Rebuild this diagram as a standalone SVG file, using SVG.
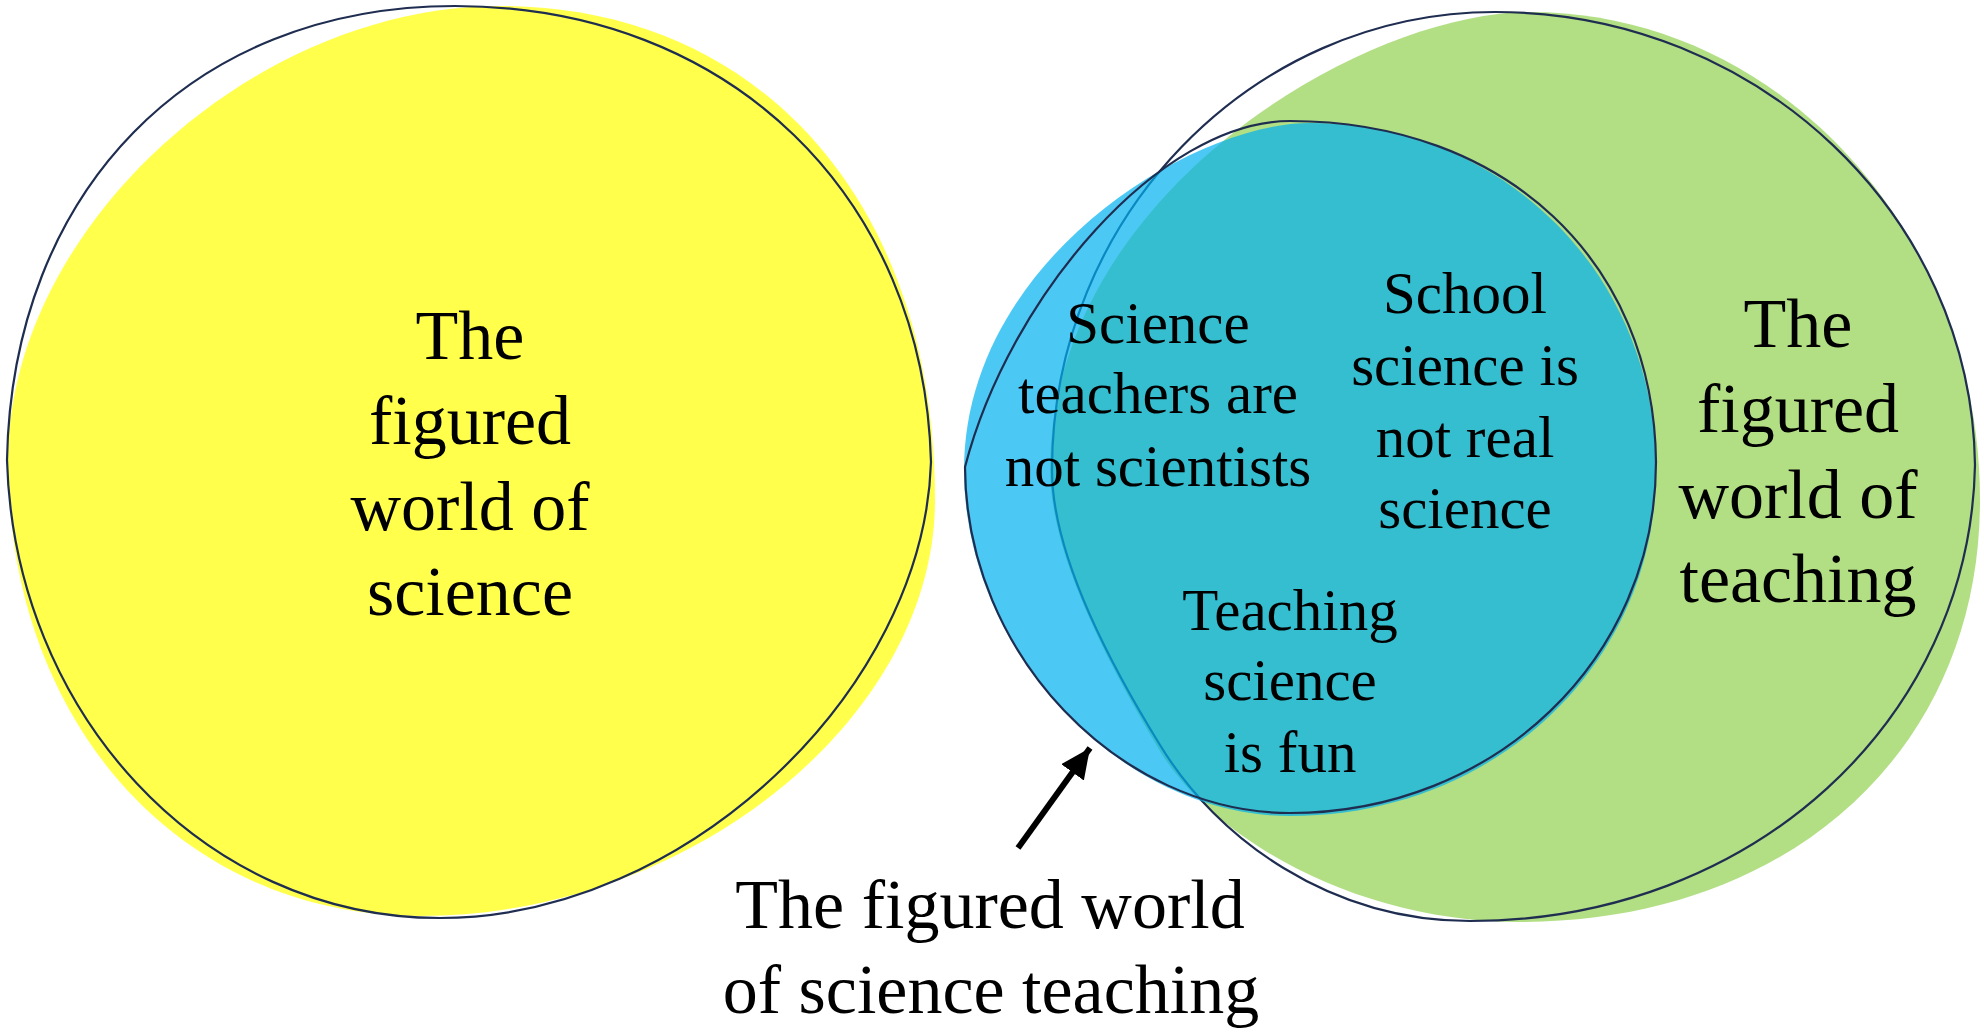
<svg xmlns="http://www.w3.org/2000/svg" width="1984" height="1035" viewBox="0 0 1984 1035">
<defs>
<style>
.bg{fill:#ffffff}
.yfill{fill:#FFFF00;fill-opacity:0.7;stroke:none}
.gfill{fill:#92D050;fill-opacity:0.7;stroke:none}
.bfill{fill:#00B0F0;fill-opacity:0.7;stroke:none}
.outline{fill:none;stroke:#1F2D50;stroke-width:2.2;stroke-linejoin:round}
.big{font-family:"Liberation Serif","Times New Roman",serif;font-size:70px;fill:#000;text-anchor:middle}
.small{font-family:"Liberation Serif","Times New Roman",serif;font-size:59px;fill:#000;text-anchor:middle}
.arrow{stroke:#000;stroke-width:6;fill:none}
</style>
<marker id="head" markerUnits="userSpaceOnUse" markerWidth="34" markerHeight="34" refX="30" refY="14" orient="auto">
<path d="M0,0 L30,14 L0,28 Z" fill="#000"/>
</marker>
</defs>
<rect class="bg" x="0" y="0" width="1984" height="1035"/>

<g id="science">
<path class="yfill" d="M8,460 C8,230 251,6 500,6 C761,6 935,204 935,500 C935,718 690,916 420,916 C181,916 8,724 8,460 Z"/>
<path class="outline" d="M7,460 C12,192 190,6 455,6 C731,6 924,198 931,462 C924,690 686,918 440,918 C202,918 14,712 7,460 Z"/>
<text class="big" x="470" y="359">The</text>
<text class="big" x="470" y="444">figured</text>
<text class="big" x="470" y="530">world of</text>
<text class="big" x="470" y="615">science</text>
</g>

<g id="teaching">
<path class="gfill" d="M1050,470 C1050,195 1362,12 1530,12 C1778,12 1980,232 1980,500 C1980,749 1791,922 1520,922 C1360,922 1214,842 1158,748 C1118,680 1050,560 1050,470 Z"/>
<path class="outline" d="M1052,470 C1052,218 1251,12 1495,12 C1759,12 1972,216 1975,465 C1970,720 1753,921 1470,921 C1330,921 1217,839 1160,745 C1118,677 1052,560 1052,470 Z"/>
<text class="big" x="1798" y="347">The</text>
<text class="big" x="1798" y="432">figured</text>
<text class="big" x="1798" y="518">world of</text>
<text class="big" x="1798" y="602">teaching</text>
</g>

<g id="science-teaching">
<path class="bfill" d="M964,470 C964,262 1190,123 1310,123 C1500,123 1656,271 1656,470 C1656,664 1495,816 1290,816 C1120,816 964,650 964,470 Z"/>
<path class="outline" d="M965,467 C1009,297 1160,121 1290,121 C1506,121 1654,262 1656,462 C1656,659 1495,813 1290,813 C1120,813 966,655 965,467 Z"/>
</g>

<g id="belief-teachers">
<text class="small" x="1158" y="343">Science</text>
<text class="small" x="1158" y="413">teachers are</text>
<text class="small" x="1158" y="486">not scientists</text>
</g>

<g id="belief-school">
<text class="small" x="1465" y="313">School</text>
<text class="small" x="1465" y="385">science is</text>
<text class="small" x="1465" y="457">not real</text>
<text class="small" x="1465" y="528">science</text>
</g>

<g id="belief-fun">
<text class="small" x="1290" y="630">Teaching</text>
<text class="small" x="1290" y="700">science</text>
<text class="small" x="1290" y="772">is fun</text>
</g>

<g id="label">
<text class="big" x="990" y="928">The figured world</text>
<text class="big" x="991" y="1013">of science teaching</text>
</g>

<g id="connectors">
<line class="arrow" x1="1018" y1="848" x2="1090" y2="748" marker-end="url(#head)"/>
</g>
</svg>
